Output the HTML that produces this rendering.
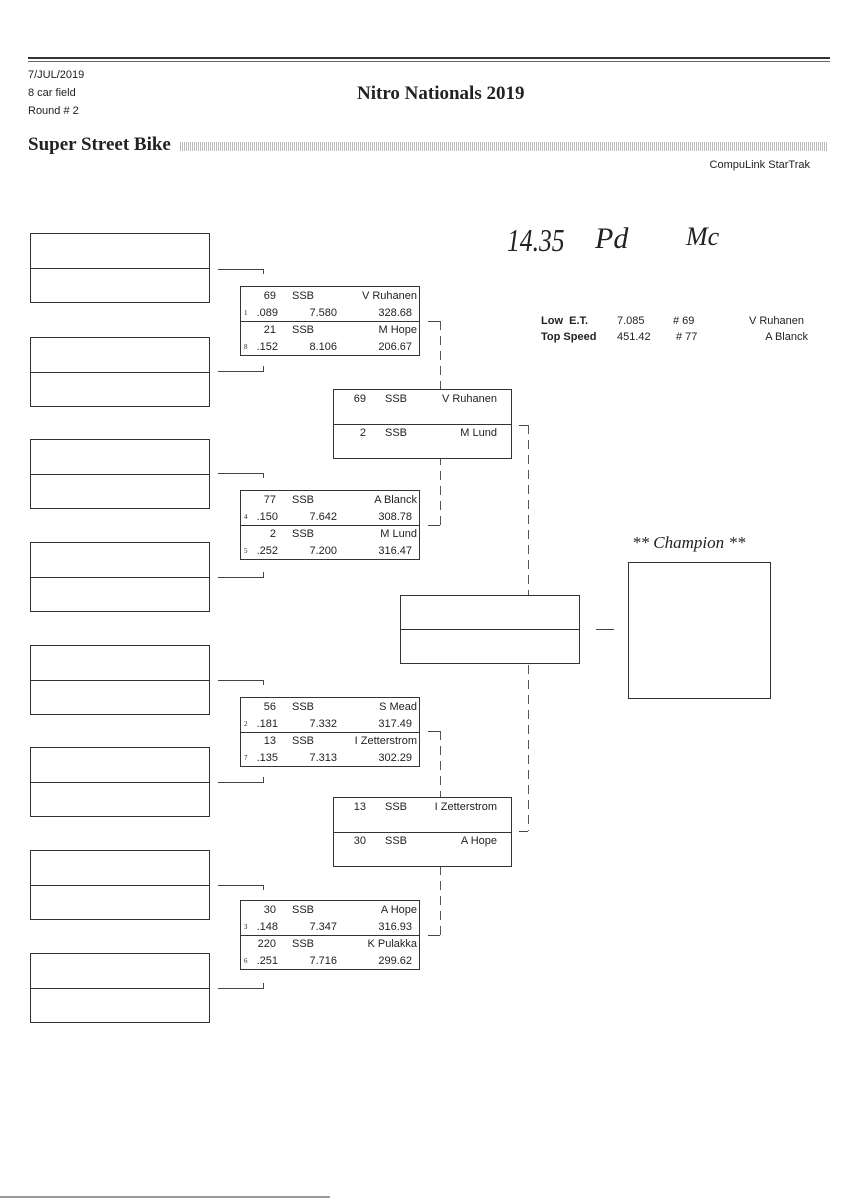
<!DOCTYPE html>
<html><head><meta charset="utf-8"><style>
body{margin:0;background:#fff;}
#p{position:relative;width:848px;height:1200px;overflow:hidden;background:#fff;font-family:"Liberation Sans",sans-serif;color:#222;}
.a{position:absolute;}
.bx{position:absolute;border:1px solid #333;background:#fff;box-sizing:border-box;}
.dv{position:absolute;left:0;right:0;border-top:1px solid #333;}
.t{position:absolute;font:11px "Liberation Sans",sans-serif;line-height:12px;white-space:nowrap;color:#222;}
.s{position:absolute;font:7px "Liberation Serif",serif;line-height:8px;color:#222;}
.h{position:absolute;border-top:1px solid #444;}
.v{position:absolute;border-left:1px solid #444;}
.d{position:absolute;width:1px;background:repeating-linear-gradient(180deg,#555 0 9px,transparent 9px 15px);}
</style></head><body><div id="p">
<div class="a" style="left:28px;top:57px;width:802px;border-top:2px solid #333;"></div>
<div class="a" style="left:28px;top:61px;width:802px;border-top:1px solid #666;"></div>
<div class="t" style="left:28px;top:69px;font-size:11px;">7/JUL/2019</div>
<div class="t" style="left:28px;top:87px;">8 car field</div>
<div class="t" style="left:28px;top:105px;">Round # 2</div>
<div class="a" style="left:357px;top:83px;font:bold 19px 'Liberation Serif',serif;">Nitro Nationals 2019</div>
<div class="a" style="left:28px;top:134px;font:bold 19px 'Liberation Serif',serif;">Super Street Bike</div>
<div class="a" style="left:180px;top:142px;width:648px;height:9px;background:repeating-linear-gradient(90deg,#bbb 0 1px,#fff 1px 2px);"></div>
<div class="t" style="right:38px;top:159px;">CompuLink StarTrak</div>

<div class="bx" style="left:30px;top:233px;width:180px;height:70px;"><div class="dv" style="top:34px"></div></div>
<div class="bx" style="left:30px;top:337px;width:180px;height:70px;"><div class="dv" style="top:34px"></div></div>
<div class="bx" style="left:30px;top:439px;width:180px;height:70px;"><div class="dv" style="top:34px"></div></div>
<div class="bx" style="left:30px;top:542px;width:180px;height:70px;"><div class="dv" style="top:34px"></div></div>
<div class="bx" style="left:30px;top:645px;width:180px;height:70px;"><div class="dv" style="top:34px"></div></div>
<div class="bx" style="left:30px;top:747px;width:180px;height:70px;"><div class="dv" style="top:34px"></div></div>
<div class="bx" style="left:30px;top:850px;width:180px;height:70px;"><div class="dv" style="top:34px"></div></div>
<div class="bx" style="left:30px;top:953px;width:180px;height:70px;"><div class="dv" style="top:34px"></div></div>

<div class="h" style="left:218px;top:269px;width:46px;"></div><div class="v" style="left:263px;top:269px;height:5px;"></div>
<div class="h" style="left:218px;top:371px;width:46px;"></div><div class="v" style="left:263px;top:366px;height:5px;"></div>
<div class="h" style="left:218px;top:473px;width:46px;"></div><div class="v" style="left:263px;top:473px;height:5px;"></div>
<div class="h" style="left:218px;top:577px;width:46px;"></div><div class="v" style="left:263px;top:572px;height:5px;"></div>
<div class="h" style="left:218px;top:680px;width:46px;"></div><div class="v" style="left:263px;top:680px;height:5px;"></div>
<div class="h" style="left:218px;top:782px;width:46px;"></div><div class="v" style="left:263px;top:777px;height:5px;"></div>
<div class="h" style="left:218px;top:885px;width:46px;"></div><div class="v" style="left:263px;top:885px;height:5px;"></div>
<div class="h" style="left:218px;top:988px;width:46px;"></div><div class="v" style="left:263px;top:983px;height:5px;"></div>

<div class="h" style="left:428px;top:321px;width:12px;"></div><div class="d" style="left:440px;top:321px;height:204px;"></div><div class="h" style="left:428px;top:525px;width:12px;"></div>
<div class="h" style="left:428px;top:731px;width:12px;"></div><div class="d" style="left:440px;top:731px;height:204px;"></div><div class="h" style="left:428px;top:935px;width:12px;"></div>
<div class="h" style="left:519px;top:425px;width:9px;"></div><div class="d" style="left:528px;top:425px;height:406px;"></div><div class="h" style="left:519px;top:831px;width:9px;"></div>
<div class="h" style="left:596px;top:629px;width:18px;"></div>

<div class="bx" style="left:240px;top:286px;width:180px;height:70px;"><div class="dv" style="top:34px"></div>
<div class="t" style="right:143px;top:3px">69</div><div class="t" style="left:51px;top:3px">SSB</div><div class="t" style="right:2px;top:3px">V Ruhanen</div>
<div class="s" style="left:3px;top:22px">1</div><div class="t" style="right:141px;top:20px">.089</div><div class="t" style="right:82px;top:20px">7.580</div><div class="t" style="right:7px;top:20px">328.68</div>
<div class="t" style="right:143px;top:37px">21</div><div class="t" style="left:51px;top:37px">SSB</div><div class="t" style="right:2px;top:37px">M Hope</div>
<div class="s" style="left:3px;top:56px">8</div><div class="t" style="right:141px;top:54px">.152</div><div class="t" style="right:82px;top:54px">8.106</div><div class="t" style="right:7px;top:54px">206.67</div></div>

<div class="bx" style="left:240px;top:490px;width:180px;height:70px;"><div class="dv" style="top:34px"></div>
<div class="t" style="right:143px;top:3px">77</div><div class="t" style="left:51px;top:3px">SSB</div><div class="t" style="right:2px;top:3px">A Blanck</div>
<div class="s" style="left:3px;top:22px">4</div><div class="t" style="right:141px;top:20px">.150</div><div class="t" style="right:82px;top:20px">7.642</div><div class="t" style="right:7px;top:20px">308.78</div>
<div class="t" style="right:143px;top:37px">2</div><div class="t" style="left:51px;top:37px">SSB</div><div class="t" style="right:2px;top:37px">M Lund</div>
<div class="s" style="left:3px;top:56px">5</div><div class="t" style="right:141px;top:54px">.252</div><div class="t" style="right:82px;top:54px">7.200</div><div class="t" style="right:7px;top:54px">316.47</div></div>

<div class="bx" style="left:240px;top:697px;width:180px;height:70px;"><div class="dv" style="top:34px"></div>
<div class="t" style="right:143px;top:3px">56</div><div class="t" style="left:51px;top:3px">SSB</div><div class="t" style="right:2px;top:3px">S Mead</div>
<div class="s" style="left:3px;top:22px">2</div><div class="t" style="right:141px;top:20px">.181</div><div class="t" style="right:82px;top:20px">7.332</div><div class="t" style="right:7px;top:20px">317.49</div>
<div class="t" style="right:143px;top:37px">13</div><div class="t" style="left:51px;top:37px">SSB</div><div class="t" style="right:2px;top:37px">I Zetterstrom</div>
<div class="s" style="left:3px;top:56px">7</div><div class="t" style="right:141px;top:54px">.135</div><div class="t" style="right:82px;top:54px">7.313</div><div class="t" style="right:7px;top:54px">302.29</div></div>

<div class="bx" style="left:240px;top:900px;width:180px;height:70px;"><div class="dv" style="top:34px"></div>
<div class="t" style="right:143px;top:3px">30</div><div class="t" style="left:51px;top:3px">SSB</div><div class="t" style="right:2px;top:3px">A Hope</div>
<div class="s" style="left:3px;top:22px">3</div><div class="t" style="right:141px;top:20px">.148</div><div class="t" style="right:82px;top:20px">7.347</div><div class="t" style="right:7px;top:20px">316.93</div>
<div class="t" style="right:143px;top:37px">220</div><div class="t" style="left:51px;top:37px">SSB</div><div class="t" style="right:2px;top:37px">K Pulakka</div>
<div class="s" style="left:3px;top:56px">6</div><div class="t" style="right:141px;top:54px">.251</div><div class="t" style="right:82px;top:54px">7.716</div><div class="t" style="right:7px;top:54px">299.62</div></div>

<div class="bx" style="left:333px;top:389px;width:179px;height:70px;"><div class="dv" style="top:34px"></div>
<div class="t" style="right:145px;top:3px">69</div><div class="t" style="left:51px;top:3px">SSB</div><div class="t" style="right:14px;top:3px">V Ruhanen</div>
<div class="t" style="right:145px;top:37px">2</div><div class="t" style="left:51px;top:37px">SSB</div><div class="t" style="right:14px;top:37px">M Lund</div></div>
<div class="bx" style="left:333px;top:797px;width:179px;height:70px;"><div class="dv" style="top:34px"></div>
<div class="t" style="right:145px;top:3px">13</div><div class="t" style="left:51px;top:3px">SSB</div><div class="t" style="right:14px;top:3px">I Zetterstrom</div>
<div class="t" style="right:145px;top:37px">30</div><div class="t" style="left:51px;top:37px">SSB</div><div class="t" style="right:14px;top:37px">A Hope</div></div>

<div class="bx" style="left:400px;top:595px;width:180px;height:69px;"><div class="dv" style="top:33px"></div></div>
<div class="a" style="left:632px;top:533px;font:italic 17px 'Liberation Serif',serif;">** Champion **</div>
<div class="bx" style="left:628px;top:562px;width:143px;height:137px;"></div>

<div class="t" style="left:541px;top:315px;font-weight:bold;font-size:11px;">Low&nbsp;&nbsp;E.T.</div>
<div class="t" style="left:541px;top:331px;font-weight:bold;font-size:11px;">Top Speed</div>
<div class="t" style="left:617px;top:315px;">7.085</div><div class="t" style="left:617px;top:331px;">451.42</div>
<div class="t" style="left:673px;top:315px;"># 69</div><div class="t" style="left:676px;top:331px;"># 77</div>
<div class="t" style="right:44px;top:315px;">V Ruhanen</div><div class="t" style="right:40px;top:331px;">A Blanck</div>

<div class="a" style="left:507px;top:222px;font:italic 32px 'Liberation Serif',serif;color:#222;transform:scaleX(0.8);transform-origin:left;">14.35</div>
<div class="a" style="left:595px;top:222px;font:italic 30px 'Liberation Serif',serif;color:#222;">Pd</div>
<div class="a" style="left:686px;top:222px;font:italic 26px 'Liberation Serif',serif;color:#222;">Mc</div>

<div class="a" style="left:0;top:1196px;width:330px;border-top:2px solid #999;"></div>
</div></body></html>
